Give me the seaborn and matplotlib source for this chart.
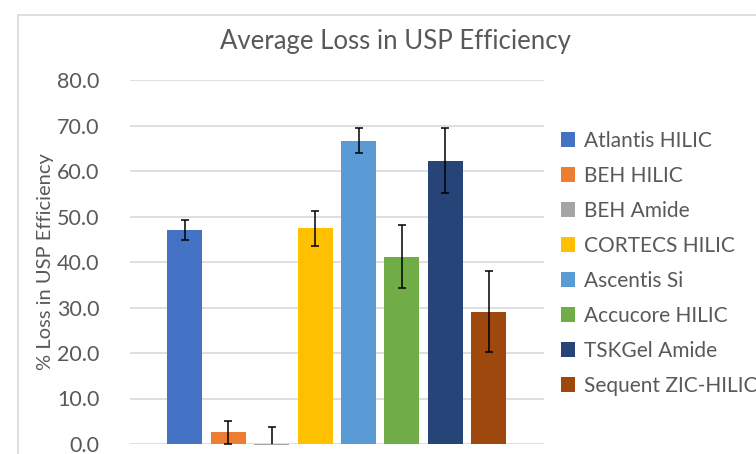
import pandas as pd
import matplotlib
matplotlib.use("Agg")
import matplotlib.pyplot as plt
import matplotlib.ticker as mticker
from matplotlib.patches import Rectangle
import seaborn as sns

# --- data ---
columns = ["Atlantis HILIC", "BEH HILIC", "BEH Amide", "CORTECS HILIC",
           "Ascentis Si", "Accucore HILIC", "TSKGel Amide", "Sequent ZIC-HILIC"]
avg_loss = [47.0, 2.6, -0.3, 47.4, 66.7, 41.2, 62.3, 29.1]
loss_err = [2.2, 2.5, 4.0, 3.8, 2.7, 6.9, 7.1, 8.9]
bar_colors = ["#4472C4", "#ED7D31", "#A5A5A5", "#FFC000",
              "#5B9BD5", "#70AD47", "#264478", "#9E480E"]
y_ticks = [0, 10, 20, 30, 40, 50, 60, 70, 80]

sns.set_style("white")
plt.rcParams["font.family"] = ["Lato", "DejaVu Sans"]
text_grey = "#595959"

df = pd.DataFrame({"column": columns, "loss": avg_loss})

fig = plt.figure(figsize=(7.56, 4.54), dpi=100)
ax = fig.add_axes([130 / 756, 1 - 444 / 454, 414 / 756, 364 / 454])

sns.barplot(data=df, x="column", y="loss", hue="column", palette=bar_colors,
            saturation=1, width=0.806, dodge=False, legend=True, ax=ax, zorder=3)
for p in ax.patches:
    p.set_clip_on(False)
    p.set_linewidth(0)

ax.errorbar(range(len(columns)), avg_loss, yerr=loss_err, fmt="none",
            ecolor="black", elinewidth=1.1, capsize=3, capthick=1.1, zorder=4)

ax.set_ylim(0, 80)
ax.set_xlim(-1.26, 8.27)
ax.set_yticks(y_ticks)
ax.yaxis.set_major_formatter(mticker.FormatStrFormatter("%.1f"))
ax.set_xticks([])
ax.set_xlabel("")
ax.set_ylabel("% Loss in USP Efficiency", fontsize=14.5, color=text_grey, labelpad=2)
ax.tick_params(axis="y", length=0, labelsize=15.5, labelcolor=text_grey, pad=22)
ax.grid(axis="y", color="#d9d9d9", linewidth=1.2, zorder=0)
for s in ax.spines.values():
    s.set_visible(False)
ax.set_axisbelow(True)

fig.text(395 / 756, 1 - 42 / 454, "Average Loss in USP Efficiency",
         ha="center", va="center", fontsize=18.5, color=text_grey)

handles, labels = ax.get_legend_handles_labels()
ax.get_legend().remove()
fig.legend(handles, labels, loc="upper left", bbox_to_anchor=(542 / 756, 1 - 112 / 454),
           frameon=False, fontsize=15, labelcolor=text_grey, handlelength=0.7,
           handleheight=0.7, handletextpad=0.4, labelspacing=0.72)

# chart area border, running off the right and bottom edges
fig.patches.append(Rectangle((18 / 756, -0.1), 1.2, 1.1 - 15 / 454,
                             transform=fig.transFigure, fill=False,
                             edgecolor="#d9d9d9", linewidth=1.2))

fig.savefig("out.png", dpi=100)
